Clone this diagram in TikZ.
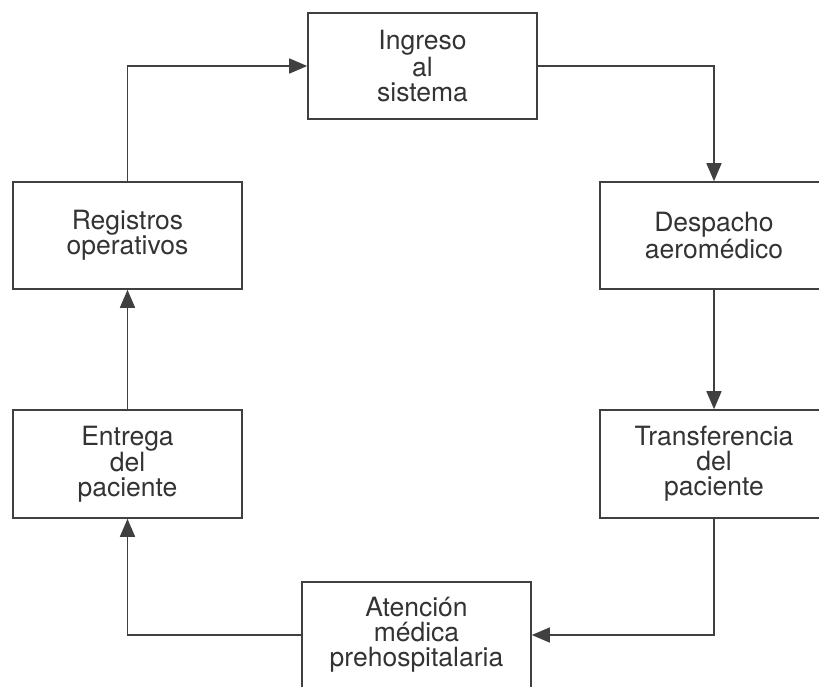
\documentclass[tikz,border=0pt]{standalone}
\usepackage{fontspec}
\setmainfont{TeX Gyre Heros}
\usetikzlibrary{arrows.meta}
\begin{document}
\begin{tikzpicture}[x=1pt,y=-1pt,
  boxnode/.style={draw=black!75, line width=1.6pt, text=black!80, align=center,
    inner sep=0pt, font=\fontsize{26.5}{25}\selectfont},
  arr/.style={draw=black!75, line width=1.6pt, -{Triangle[length=18pt,width=15pt]}},
  ln/.style={draw=black!75, line width=1.6pt}]
\useasboundingbox (0,0) rectangle (819,686);
\clip (0,0) rectangle (819,686);
\node[boxnode, minimum width=229pt, minimum height=106pt] (ing) at (422.5,66) {Ingreso\\al\\sistema};
\node[boxnode, minimum width=229pt, minimum height=107pt] (reg) at (127.5,235.5) {Registros\\operativos};
\node[boxnode, minimum width=228pt, minimum height=107pt] (des) at (714,235.5) {Despacho\\aeromédico};
\node[boxnode, minimum width=229pt, minimum height=108pt] (ent) at (127.5,464) {Entrega\\del\\paciente};
\node[boxnode, minimum width=228pt, minimum height=108pt] (tra) at (714,464) {Transferencia\\del\\paciente};
\node[boxnode, minimum width=229pt, minimum height=106pt] (ate) at (416.5,635) {Atención\\médica\\prehospitalaria};
\draw[arr] (reg.north) |- (ing.west);
\draw[arr] (ing.east) -| (des.north);
\draw[arr] (des.south) -- (tra.north);
\draw[arr] (tra.south) |- (ate.east);
\draw[arr] (ate.west) -| (ent.south);
\draw[arr] (ent.north) -- (reg.south);
\end{tikzpicture}
\end{document}
